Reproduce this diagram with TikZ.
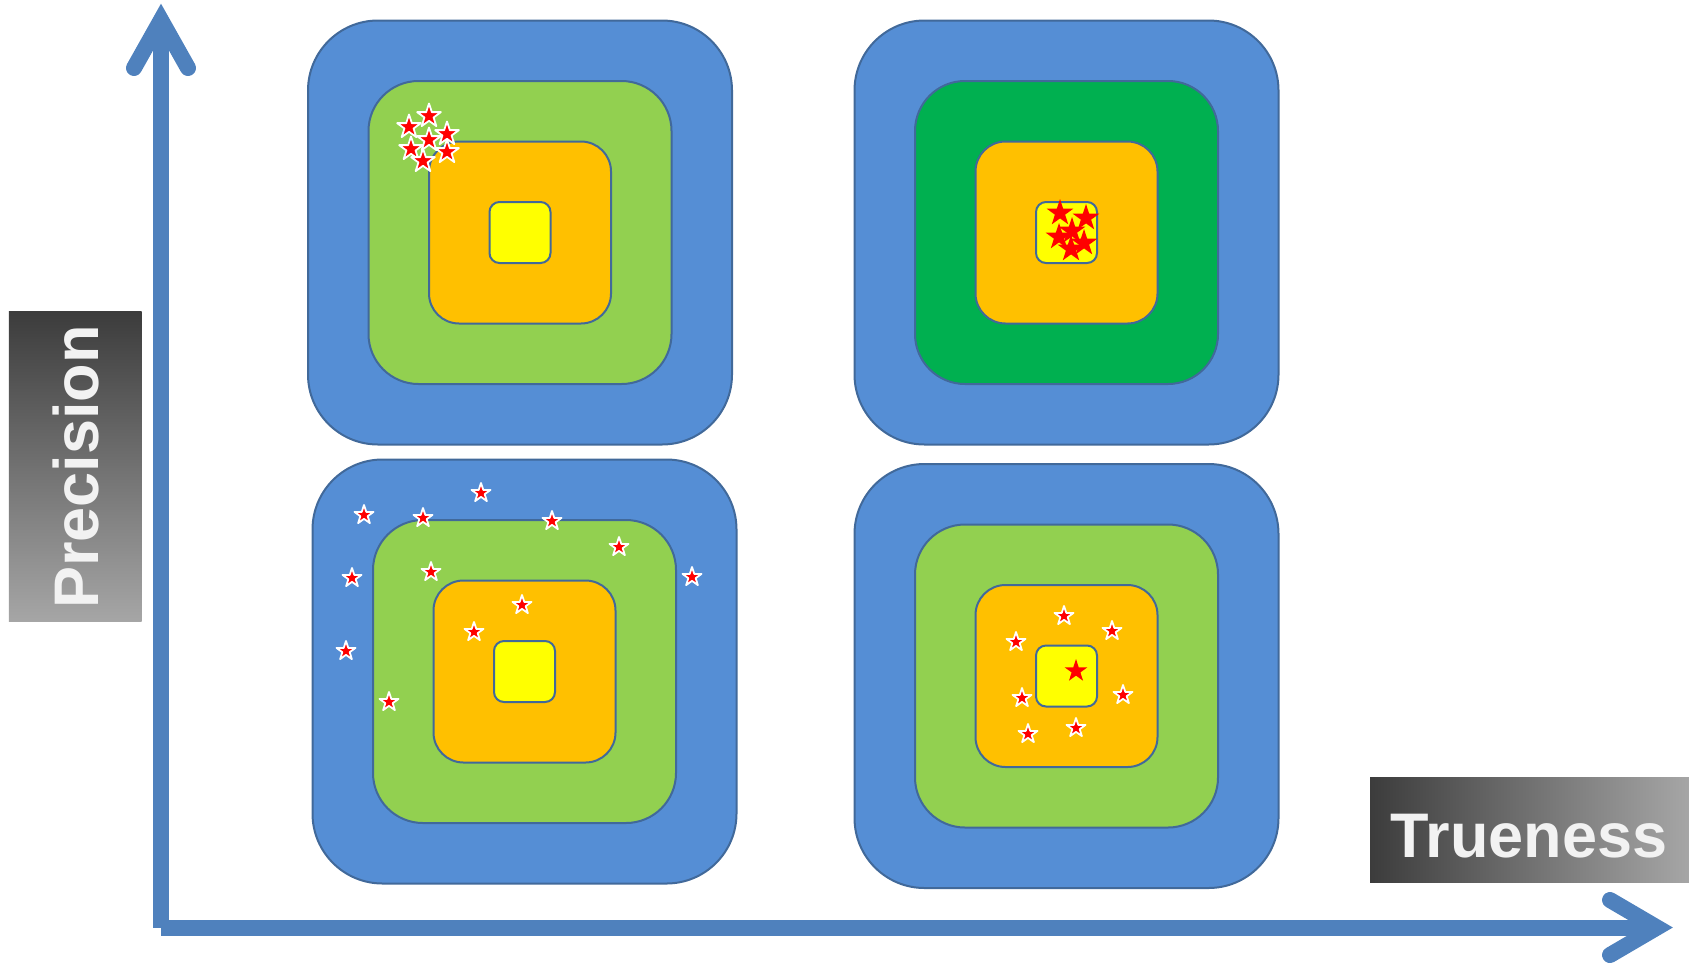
\documentclass[tikz,border=0pt]{standalone}
\usepackage{fontspec}
\setmainfont{Liberation Sans}
\usetikzlibrary{shapes.geometric}

\definecolor{tblue}{HTML}{558ED5}
\definecolor{lgreen}{HTML}{92D050}
\definecolor{dgreen}{HTML}{00B050}
\definecolor{torange}{HTML}{FFC000}
\definecolor{tyellow}{HTML}{FFFF00}
\definecolor{ringedge}{HTML}{41699A}
\definecolor{axisblue}{HTML}{4F81BD}
\definecolor{labdark}{HTML}{3C3C3C}
\definecolor{lablight}{HTML}{A6A6A6}
\definecolor{labfg}{HTML}{F2F2F2}

\tikzset{
  ring/.style={draw=ringedge, line width=1pt, inner sep=0pt, minimum size=#1},
  wstar/.style={star, star points=5, star point ratio=2.6, inner sep=0pt,
    minimum size=#1, fill=red, draw=white, line width=0.9pt, line join=round},
  rstar/.style={star, star points=5, star point ratio=2.6, inner sep=0pt,
    minimum size=#1, fill=red},
  axis/.style={draw=axisblue, line width=8pt},
  axishead/.style={axis, line cap=round, line join=miter},
  labelbox/.style={inner sep=0pt, draw=none},
  labtext/.style={text=labfg, inner sep=0pt, font=\fontsize{31.5}{31.5}\selectfont\bfseries}
}

\begin{document}
\begin{tikzpicture}[x=0.5pt, y=-0.5pt]
% one unit is one pixel of the 1689 x 964 picture, y runs downwards
\useasboundingbox (0,0) rectangle (1689,964);
% the four targets
\foreach \tg/\x/\y/\g in {tl/520/232.5/lgreen, tr/1066.5/232.5/dgreen,
    bl/524.5/671.5/lgreen, br/1066.5/676/lgreen} {
  \node[ring=212pt, rounded corners=35pt, fill=tblue] (\tg-a) at (\x,\y) {};
  \node[ring=151.5pt, rounded corners=25pt, fill=\g] (\tg-b) at (\tg-a) {};
  \node[ring=91pt, rounded corners=15pt, fill=torange] (\tg-c) at (\tg-a) {};
  \node[ring=30.5pt, rounded corners=5pt, fill=tyellow] (\tg-d) at (\tg-a) {};
}
% hits: precise but not true
\foreach \x/\y [count=\i] in {429/116, 409/127, 429/140, 447/134, 411/149, 447/152, 423/161}
  \node[wstar=12.5pt] (tl-s\i) at (\x,\y) {};
% precise and true
\foreach \x/\y [count=\i] in {1060/213, 1086/218, 1072/231, 1059/237, 1084/243, 1071/249}
  \node[rstar=14pt] (tr-s\i) at (\x,\y) {};
% neither
\foreach \x/\y [count=\i] in {481/493, 364/515, 423/518, 552/521, 619/547, 352/578,
    431/572, 692/577, 522/605, 474/632, 346/651, 389/702}
  \node[wstar=10pt] (bl-s\i) at (\x,\y) {};
% true but not precise
\foreach \x/\y [count=\i] in {1064/616, 1112/631, 1016/642, 1022/698, 1123/695,
    1028/734, 1076/728}
  \node[wstar=10pt] (br-s\i) at (\x,\y) {};
\node[rstar=12pt] (br-mean) at (1076,671) {};
% axes
\coordinate (o) at (161,927.5);
\coordinate (ytip) at (161,20);
\coordinate (xtip) at (1657,927.5);
\draw[axis] (o) -- (ytip);
\draw[axis] (o) -- (xtip);
\draw[axishead] (ytip) ++(-27,48) -- (ytip) -- ++(27,48);
\draw[axishead] (xtip) ++(-47,-27.5) -- (xtip) -- ++(-47,27.5);
% axis labels
\node[labelbox, minimum width=66.4pt, minimum height=155.4pt,
  top color=labdark, bottom color=lablight] (precbox) at (75.3,466.5) {};
\node[labtext, rotate=90, anchor=base] (prec) at (98,467) {Precision};
\node[labelbox, minimum width=159.5pt, minimum height=52.5pt,
  left color=labdark, right color=lablight] (truebox) at (1529.5,829.5) {};
\node[labtext, anchor=base] (true) at (1529,857) {Trueness};
\end{tikzpicture}
\end{document}
